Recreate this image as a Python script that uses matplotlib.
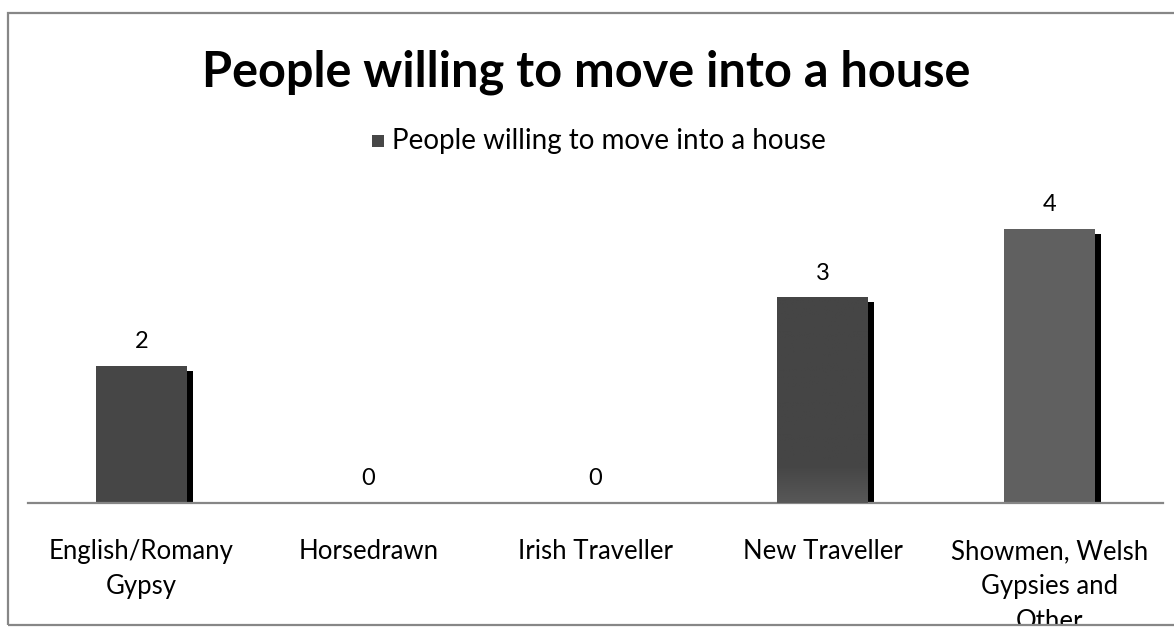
import matplotlib
matplotlib.use("Agg")
import matplotlib.pyplot as plt
import matplotlib.transforms as mtransforms
from matplotlib.patches import Rectangle
import numpy as np

categories = ["English/Romany\nGypsy", "Horsedrawn", "Irish Traveller",
              "New Traveller", "Showmen, Welsh\nGypsies and\nOther"]
values = [2, 0, 0, 3, 4]
title = "People willing to move into a house"
series_name = "People willing to move into a house"

bar_colors = ["#464646", "#464646", "#464646", "#454545", "#606060"]

W, H = 1174, 628
fig = plt.figure(figsize=(W / 100, H / 100), dpi=100)
fig.patch.set_facecolor("white")

def fx(px):
    return px / W

def fy(py):
    return 1 - py / H

ax_left, ax_right, ax_bottom, ax_top = 28, 1163, 503, 180
ax = fig.add_axes([fx(ax_left), fy(ax_bottom), fx(ax_right - ax_left), (ax_bottom - ax_top) / H])

x = np.arange(len(categories))
width = 0.4

# shadows
shadow_tr = ax.transData + mtransforms.ScaledTranslation(6 / 100, -5 / 100, fig.dpi_scale_trans)
ax.bar(x, values, width=width, color="black", transform=shadow_tr, zorder=1)
bars = ax.bar(x, values, width=width, color=bar_colors, zorder=2, label=series_name)

# subtle gradient at bottom of New Traveller bar
b = bars[3]
grad = np.linspace(0, 1, 200)
vals = np.clip(grad / 0.18, 0, 1)
c_bot = np.array([0x58, 0x58, 0x58]) / 255
c_top = np.array([0x45, 0x45, 0x45]) / 255
img = (c_bot[None, :] * (1 - vals[:, None]) + c_top[None, :] * vals[:, None])[:, None, :]
ax.imshow(img, extent=(b.get_x(), b.get_x() + b.get_width(), 0, b.get_height()),
          origin="lower", aspect="auto", zorder=3)
ax.set_xlim(-0.5, len(categories) - 0.5)
ax.set_ylim(0, (ax_bottom - ax_top) / 68.5)

font = "Lato"
for xi, v in zip(x, values):
    ax.annotate(str(v), (xi, v), xytext=(0, 10), textcoords="offset points",
                ha="center", va="bottom", fontsize=17, family=font, color="black")

for s in ["top", "right", "left"]:
    ax.spines[s].set_visible(False)
ax.spines["bottom"].set_color("#868686")
ax.spines["bottom"].set_linewidth(1.6)
ax.set_yticks([])
ax.set_xticks(x)
ax.set_xticklabels(categories, fontsize=18.5, family=font, linespacing=1.5)
ax.tick_params(axis="x", length=0, pad=26)
ax.patch.set_alpha(0)

fig.text(fx(586), fy(72), title, ha="center", va="center", fontsize=35,
         fontweight="bold", family=font)

# legend
fig.patches.append(Rectangle((fx(372), fy(147)), fx(12), 12 / H, transform=fig.transFigure,
                             facecolor="#474747", edgecolor="none", zorder=5))
fig.text(fx(392), fy(141), series_name, ha="left", va="center", fontsize=20, family=font)

# chart frame
fig.patches.append(Rectangle((fx(-10), fy(628)), fx(W + 20), 3 / H, transform=fig.transFigure,
                             facecolor="white", edgecolor="none", zorder=9))
fig.patches.append(Rectangle((fx(8), fy(625)), fx(W + 20), (625 - 13) / H, transform=fig.transFigure,
                             facecolor="none", edgecolor="#878787", linewidth=1.6, zorder=10))

fig.savefig("out.png", dpi=100, facecolor="white")
